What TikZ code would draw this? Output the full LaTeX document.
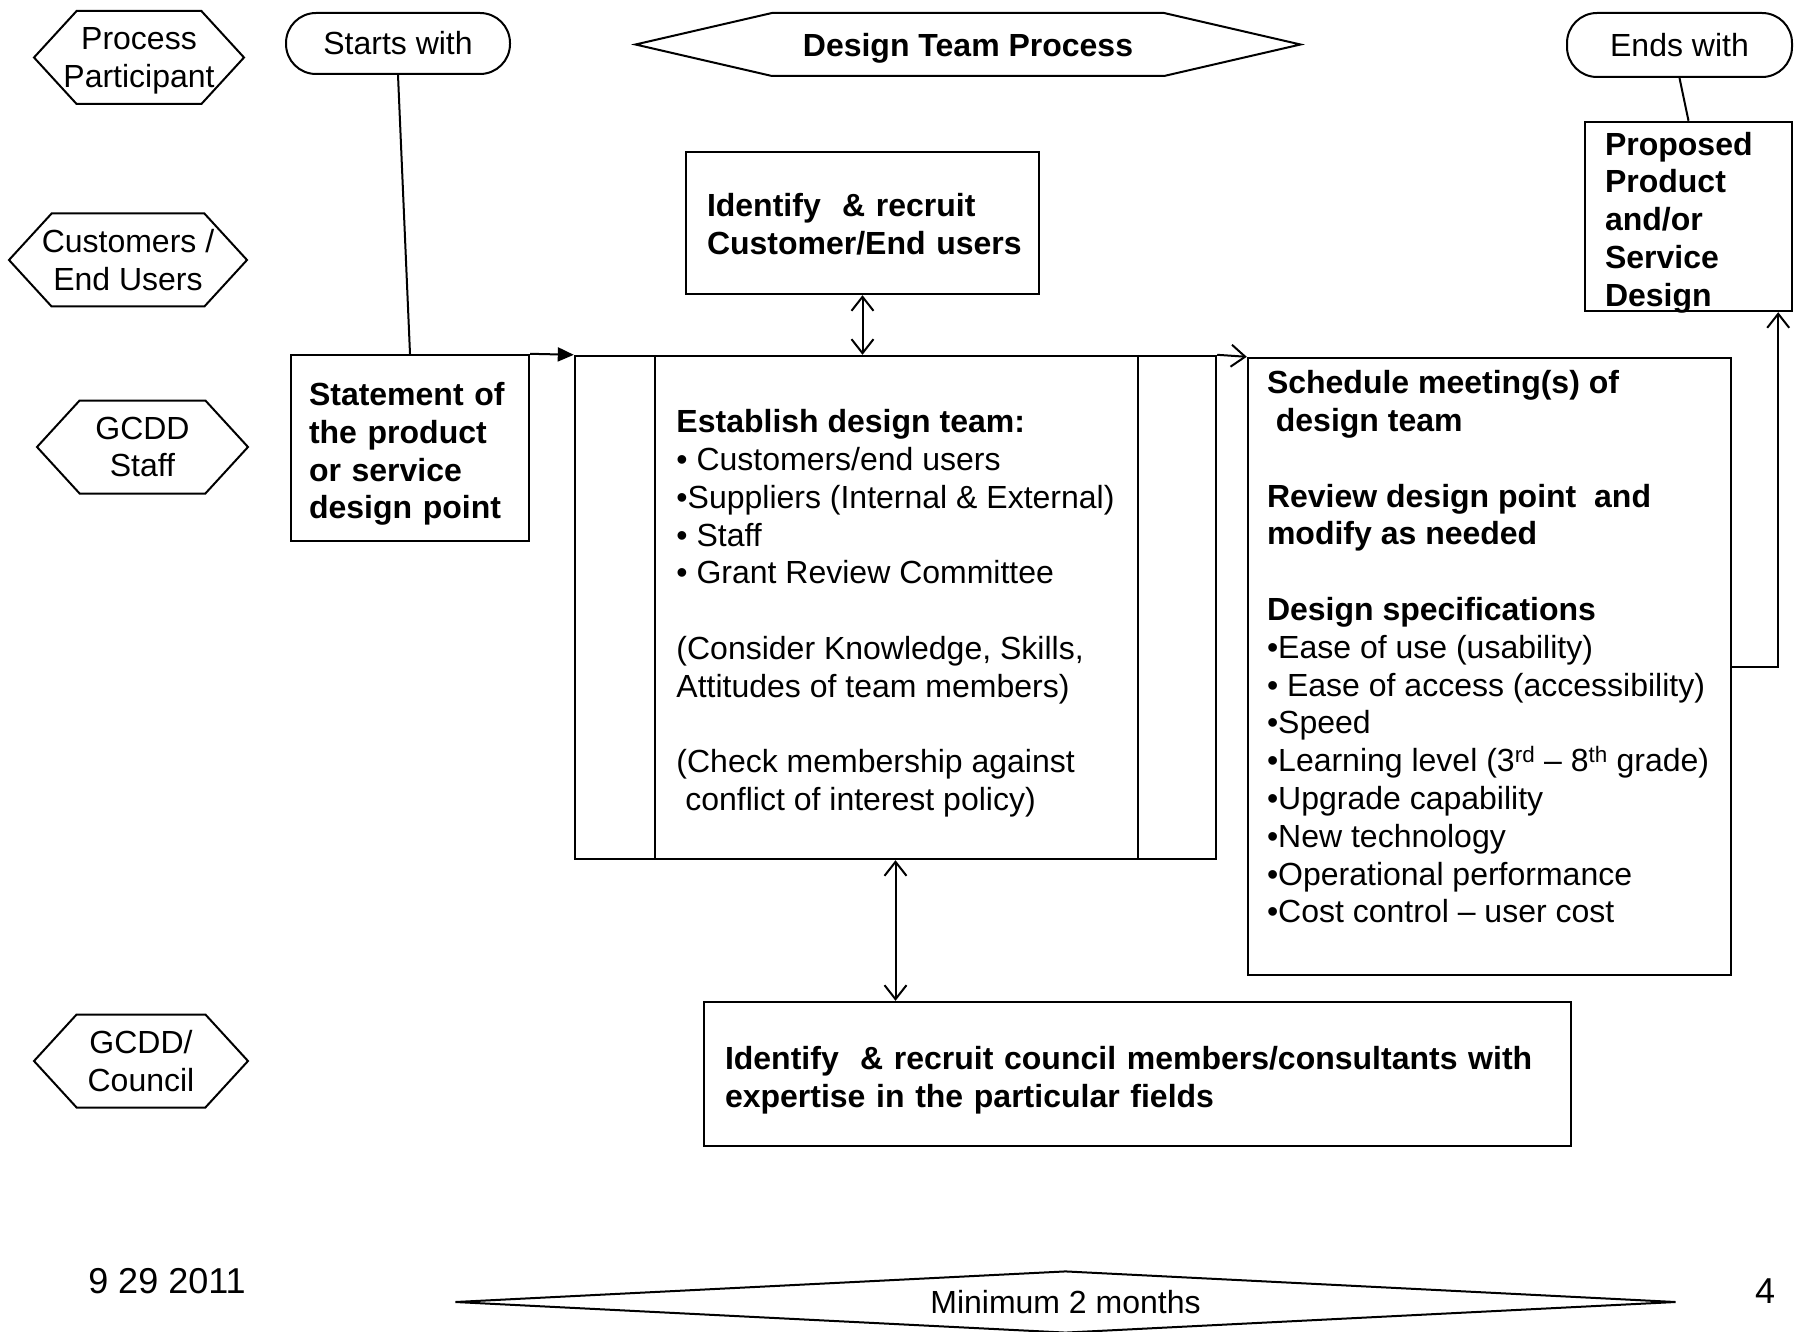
\documentclass[tikz,border=0pt]{standalone}
\usepackage{fontspec}
\setmainfont{Liberation Sans}
\usetikzlibrary{shapes.symbols,shapes.geometric,arrows.meta}
\newcommand{\dtfont}{\fontsize{32}{37.8}\selectfont}

\tikzset{
  >={Straight Barb[length=14pt,width=22pt]},
  box/.style={draw, line width=2.4pt, inner sep=0pt},
  boxtext/.style={inner sep=0pt, align=left, font=\dtfont},
  role/.style={draw, line width=2pt, signal, signal to=west and east, signal pointer angle=95, inner ysep=0pt, inner xsep=-15pt, align=center, font=\dtfont, minimum height=93},
  terminal/.style={draw, line width=2pt, rounded corners=30pt, inner sep=0pt, font=\dtfont},
  link/.style={line width=2pt},
}

\begin{document}
\begin{tikzpicture}[x=1pt, y=-1pt]
    \useasboundingbox (0,0) rectangle (1794,1332);

    \node[role, minimum width=210, text depth=-4pt] (participant) at (139,57.5) {Process\\Participant};
    \node[role, minimum width=238] (customers) at (128,260) {Customers /\\End Users};
    \node[role, minimum width=211] (staff) at (142.5,447) {GCDD\\Staff};
    \node[role, minimum width=214] (gcddcouncil) at (141,1061) {GCDD/\\Council};

    \node[terminal, minimum width=224, minimum height=61] (starts) at (398,43.5) {Starts with};
    \node[terminal, minimum width=225, minimum height=64] (ends) at (1679.5,45) {Ends with};
    \node[role, signal pointer angle=26, minimum width=665, minimum height=63, text depth=0pt, font=\dtfont\bfseries] (title) at (968,44.5) {Design Team Process};

    \node[box, minimum width=238, minimum height=186] (stmt) at (410,448) {};
    \node[boxtext, text width=202, font=\dtfont\bfseries] (stmttext) at ([yshift=-6pt]stmt.center) {Statement of\\the product\\or service\\design point};

    \node[box, minimum width=353, minimum height=142] (ident) at (862.5,223) {};
    \node[boxtext, text width=315, font=\dtfont\bfseries] (identtext) at ([yshift=-1pt,xshift=2pt]ident.center) {Identify\ \ \& recruit\\Customer/End users};

    \node[box, minimum width=641, minimum height=503] (team) at (895.5,607.5) {};
    \node[boxtext] (teamtext) at ([yshift=-6pt]team.center) {\textbf{Establish design team:}\\
      • Customers/end users\\
      •Suppliers (Internal \& External)\\
      • Staff\\
      • Grant Review Committee\\[37.8pt]
      (Consider Knowledge, Skills,\\
      Attitudes of team members)\\[37.8pt]
      (Check membership against\\
      \ conflict of interest policy)};
    \draw[link, line width=2.4pt] ([xshift=81]team.north west) -- ([xshift=81]team.south west);
    \draw[link, line width=2.4pt] ([xshift=-79]team.north east) -- ([xshift=-79]team.south east);

    \node[box, minimum width=483, minimum height=617] (sched) at (1489.5,666.5) {};
    \node[boxtext, anchor=north west] (schedtext) at ([shift={(20,13.5)}]sched.north west) {\textbf{Schedule meeting(s) of}\\
      \textbf{\ design team}\\[37.8pt]
      \textbf{Review design point\ \ and}\\
      \textbf{modify as needed}\\[37.8pt]
      \textbf{Design specifications}\\
      •Ease of use (usability)\\
      • Ease of access (accessibility)\\
      •Speed\\
      •Learning level (3\textsuperscript{rd} – 8\textsuperscript{th} grade)\\
      •Upgrade capability\\
      •New technology\\
      •Operational performance\\
      •Cost control – user cost};

    \node[box, minimum width=207, minimum height=189] (prop) at (1688.5,216.5) {};
    \node[boxtext, text width=167, font=\dtfont\bfseries] (proptext) at ([yshift=-6pt]prop.center) {Proposed\\Product\\and/or\\Service\\Design};

    \node[box, minimum width=867, minimum height=144] (recruit) at (1137.5,1074) {};
    \node[boxtext, text width=825, font=\dtfont\bfseries] (recruittext) at ([yshift=-6pt]recruit.center) {Identify\ \ \& recruit council members/consultants with\\expertise in the particular fields};

    \node[font=\fontsize{36}{40}\selectfont] (date) at (167,1281) {9 29 2011};
    \node[font=\fontsize{36}{40}\selectfont] (page) at (1765,1291) {4};
    \node[draw, diamond, line width=2pt, minimum width=1221, minimum height=62, aspect=19.7, inner sep=0pt, font=\dtfont] (span) at (1065.5,1302) {Minimum 2 months};

    \draw[link] (starts.south) -- (stmt.north);
    \draw[link] (ends.south) -- (prop.north);
    \draw[link, -{Triangle[length=16pt,width=14pt]}] (stmt.north east) -- (team.north west);
    \draw[link, ->] (team.north east) -- (sched.north west);
    \draw[link, <->] (ident.south) -- (ident.south |- team.north);
    \draw[link, <->] (team.south) -- (team.south |- recruit.north);
    \coordinate (bend) at ([xshift=46]sched.east);
    \draw[link, ->] (sched.east) -- (bend) -- (bend |- prop.south);
\end{tikzpicture}
\end{document}
